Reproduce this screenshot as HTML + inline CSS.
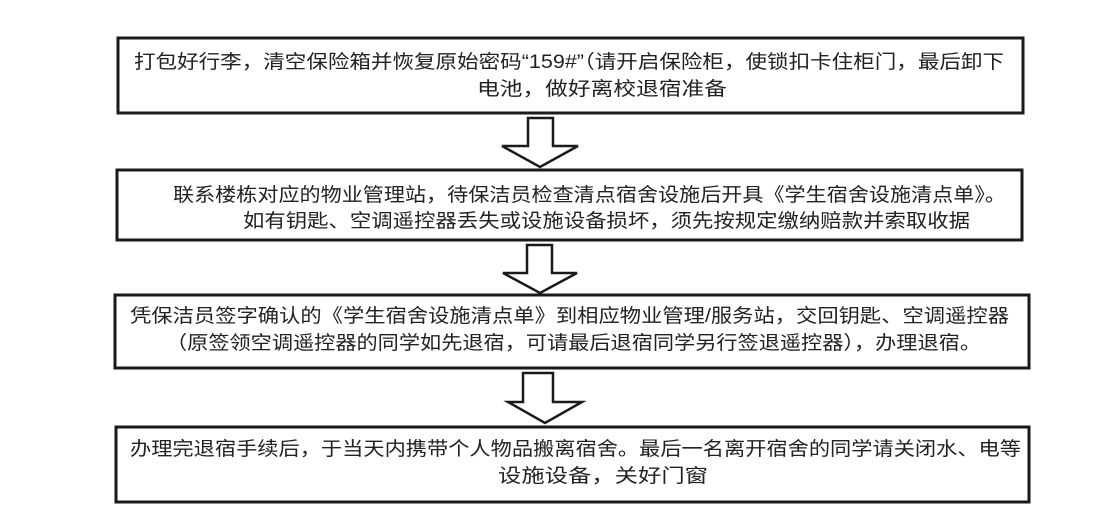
<!DOCTYPE html>
<html><head><meta charset="utf-8"><style>
html,body{margin:0;padding:0;background:#fff;}
svg{display:block;}
text{font-family:"Liberation Sans","Noto Sans CJK SC",sans-serif;font-size:19px;fill:#222;}
</style></head><body>
<svg width="1094" height="525" viewBox="0 0 1094 525">
<g fill="#fff" stroke="#1a1a1a" stroke-width="3">
<rect x="118" y="38" width="905" height="75"/>
<rect x="117" y="170" width="905" height="70"/>
<rect x="115" y="295" width="914" height="73"/>
<rect x="116" y="427" width="913" height="75"/>
</g>
<g fill="#fff" stroke="#1a1a1a" stroke-width="2.5" stroke-linejoin="miter">
<polygon points="528,118 553,118 553,146 578,146 540,167 502,146 528,146"/>
<polygon points="527,245 552,245 552,273 577,273 540,293 503,273 527,273"/>
<polygon points="523,373 553,373 553,402 582,402 545,423 508,402 523,402"/>
</g>
<text x="134" y="68" textLength="870" lengthAdjust="spacingAndGlyphs">打包好行李，清空保险箱并恢复原始密码“159#”（请开启保险柜，使锁扣卡住柜门，最后卸下</text>
<text x="477" y="95" textLength="250" lengthAdjust="spacingAndGlyphs">电池，做好离校退宿准备</text>
<text x="173" y="201" textLength="833" lengthAdjust="spacingAndGlyphs">联系楼栋对应的物业管理站，待保洁员检查清点宿舍设施后开具《学生宿舍设施清点单》。</text>
<text x="243" y="227" textLength="727" lengthAdjust="spacingAndGlyphs">如有钥匙、空调遥控器丢失或设施设备损坏，须先按规定缴纳赔款并索取收据</text>
<text x="130" y="322" textLength="879" lengthAdjust="spacingAndGlyphs">凭保洁员签字确认的《学生宿舍设施清点单》到相应物业管理/服务站，交回钥匙、空调遥控器</text>
<text x="166" y="349" textLength="815" lengthAdjust="spacingAndGlyphs">（原签领空调遥控器的同学如先退宿，可请最后退宿同学另行签退遥控器），办理退宿。</text>
<text x="130" y="455" textLength="891" lengthAdjust="spacingAndGlyphs">办理完退宿手续后，于当天内携带个人物品搬离宿舍。最后一名离开宿舍的同学请关闭水、电等</text>
<text x="498" y="482" textLength="210" lengthAdjust="spacingAndGlyphs">设施设备，关好门窗</text>
</svg>
</body></html>
